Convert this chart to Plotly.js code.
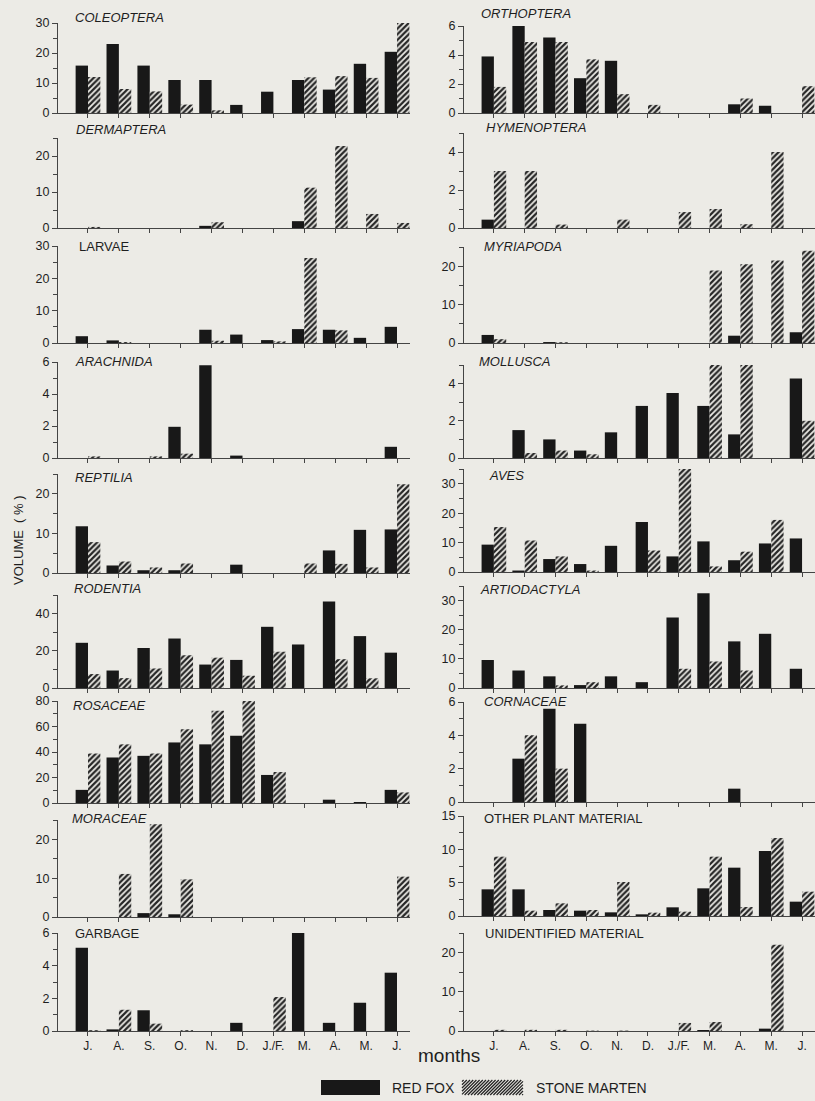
<!DOCTYPE html>
<html><head><meta charset="utf-8">
<script src="https://cdn.plot.ly/plotly-3.0.1.min.js"></script>
<style>html,body{margin:0;padding:0;background:#ecebe6;} #chart{width:815px;height:1101px;}</style>
</head><body><div id="chart"></div>
<script>
// ---------- DATA ----------
const months = ['J.','A.','S.','O.','N.','D.','J./F.','M.','A.','M.','J.'];
const seriesNames = ['RED FOX','STONE MARTEN'];
const panelTitles = ['COLEOPTERA','DERMAPTERA','LARVAE','ARACHNIDA','REPTILIA','RODENTIA','ROSACEAE','MORACEAE','GARBAGE',
                     'ORTHOPTERA','HYMENOPTERA','MYRIAPODA','MOLLUSCA','AVES','ARTIODACTYLA','CORNACEAE','OTHER PLANT MATERIAL','UNIDENTIFIED MATERIAL'];

const coleopteraFox     = [15.8,23,15.8,11,11,2.7,7.1,11,7.8,16.4,20.4];
const coleopteraMarten  = [12,8,7.2,2.8,0.9,0,0,11.9,12.3,11.7,30.5];
const dermapteraFox     = [0,0,0,0,0.6,0,0,1.9,0,0,0];
const dermapteraMarten  = [0.3,0,0,0,1.6,0,0,11.2,22.8,3.9,1.4];
const larvaeFox         = [2.1,0.8,0,0,4.1,2.6,0.9,4.3,4.1,1.6,5.0];
const larvaeMarten      = [0,0.3,0,0,0.7,0,0.5,26.3,3.9,0,0];
const arachnidaFox      = [0,0,0,1.95,5.8,0.15,0,0,0,0,0.7];
const arachnidaMarten   = [0.1,0,0.1,0.27,0,0,0,0,0,0,0];
const reptiliaFox       = [11.8,1.9,0.7,0.7,0,2.1,0,0,5.7,10.9,11];
const reptiliaMarten    = [7.8,2.9,1.4,2.4,0,0,0,2.4,2.3,1.4,22.4];
const rodentiaFox       = [24.3,9.4,21.5,26.6,12.6,15.1,32.9,23.4,46.5,27.9,19];
const rodentiaMarten    = [7.5,5.3,10.5,17.6,16.3,6.6,19.5,0,15.5,5.2,0];
const rosaceaeFox       = [10.3,35.7,37,47.5,46,52.7,22,0,2.6,0.8,10.3];
const rosaceaeMarten    = [38.8,46,38.8,57.9,72.4,80,24.3,0,0,0,8.3];
const moraceaeFox       = [0,0,1.0,0.7,0,0,0,0,0,0,0];
const moraceaeMarten    = [0,11.1,23.9,9.7,0,0,0,0,0,0,10.4];
const garbageFox        = [5.1,0.1,1.27,0,0,0.5,0,6.06,0.5,1.73,3.57];
const garbageMarten     = [0.05,1.3,0.45,0.05,0,0,2.08,0,0,0,0];

const orthopteraFox     = [3.9,6.1,5.2,2.4,3.6,0,0,0,0.6,0.5,0];
const orthopteraMarten  = [1.8,4.9,4.9,3.7,1.3,0.56,0,0,1.0,0,1.85];
const hymenopteraFox    = [0.44,0,0,0,0,0,0,0,0,0,0];
const hymenopteraMarten = [3.0,3.0,0.18,0,0.44,0,0.84,1.0,0.2,4.0,0];
const myriapodaFox      = [2.1,0,0.25,0,0,0,0,0,1.9,0,2.8];
const myriapodaMarten   = [1.0,0,0.2,0,0,0,0,18.9,20.5,21.5,24];
const molluscaFox       = [0,1.5,1.0,0.4,1.38,2.8,3.5,2.8,1.27,0,4.28];
const molluscaMarten    = [0,0.27,0.4,0.2,0,0,0,5.0,5.0,0,2.0];
const avesFox           = [9.3,0.5,4.4,2.7,8.9,17,5.3,10.4,4.0,9.7,11.4];
const avesMarten        = [15.3,10.7,5.3,0.5,0,7.3,35,1.9,6.9,17.7,0];
const artiodactylaFox   = [9.6,6.0,4.0,1.0,4.0,2.0,24.2,32.5,16,18.6,6.6];
const artiodactylaMarten= [0,0,0.9,2.0,0,0,6.6,9.1,6.0,0,0];
const cornaceaeFox      = [0,2.6,5.6,4.7,0,0,0,0,0.8,0,0];
const cornaceaeMarten   = [0,4.0,2.0,0,0,0,0,0,0,0,0];
const otherPlantFox     = [4.0,4.0,0.9,0.8,0.55,0.25,1.3,4.15,7.25,9.75,2.15];
const otherPlantMarten  = [8.9,0.8,1.9,0.9,5.1,0.5,0.65,8.9,1.35,11.7,3.65];
const unidentifiedFox   = [0,0,0,0,0,0,0,0.25,0,0.6,0];
const unidentifiedMarten= [0.3,0.3,0.3,0.1,0.1,0,2.05,2.3,0,22,0];

const foxSeries = [coleopteraFox,dermapteraFox,larvaeFox,arachnidaFox,reptiliaFox,rodentiaFox,rosaceaeFox,moraceaeFox,garbageFox,
                   orthopteraFox,hymenopteraFox,myriapodaFox,molluscaFox,avesFox,artiodactylaFox,cornaceaeFox,otherPlantFox,unidentifiedFox];
const martenSeries = [coleopteraMarten,dermapteraMarten,larvaeMarten,arachnidaMarten,reptiliaMarten,rodentiaMarten,rosaceaeMarten,moraceaeMarten,garbageMarten,
                   orthopteraMarten,hymenopteraMarten,myriapodaMarten,molluscaMarten,avesMarten,artiodactylaMarten,cornaceaeMarten,otherPlantMarten,unidentifiedMarten];

// ---------- AXIS SETTINGS (style) ----------
const yMax   = [30,25,30,6,25,50,80,25,6,  6,5,25,5,35,35,6,15,25];
const yDtick = [10,10,10,2,10,20,20,10,2,  2,2,10,2,10,10,2,5,10];
const italicTitle = [1,1,0,1,1,1,1,1,0, 1,1,1,1,1,1,1,0,0];

// ---------- LAYOUT POSITIONS (px) ----------
const W = 815, H = 1101;
const colX = [[58,410],[464,815]];
const rowsPx = [
  [[23,113],[138,228],[246,343],[362,458],[474,573],[595,688],[701,803],[820,917],[933,1031]],
  [[26,113],[133,228],[247,343],[365,458],[469,572],[586,688],[702,802],[816,916],[933,1031]]
];
const titleXPx = [73,74,77,73,73,72,71,70,73, 479,484,482,477,487,478,482,482,483];
const titleYPx = [17,130,247,361,477,588,705,818,933, 14,128,247,361,475,589,701,818,933];

const BG = '#ecebe6';
const FONT = 'Liberation Sans, Arial, Helvetica, sans-serif';
const INK = '#1e1e1e';
const HATCH = '#262626';

const px2x = v => v / W;
const px2y = v => 1 - v / H;

const traces = [];
const layout = {
  width: W, height: H,
  margin: {l:0, r:0, t:0, b:0},
  paper_bgcolor: BG, plot_bgcolor: BG,
  barmode: 'group', bargap: 0.2, bargroupgap: 0,
  font: {family: FONT, color: INK, size: 12},
  showlegend: false,
  annotations: [], shapes: []
};

const xIdx = months.map((m, j) => j);

for (let k = 0; k < 18; k++) {
  const col = k < 9 ? 0 : 1;
  const row = k % 9;
  const n = k + 1;
  const xa = n === 1 ? 'x' : 'x' + n;
  const ya = n === 1 ? 'y' : 'y' + n;
  traces.push({
    type:'bar', x: xIdx, y: foxSeries[k], xaxis: xa, yaxis: ya,
    name: seriesNames[0], marker: {color:'#181818', line:{width:0}}
  });
  traces.push({
    type:'bar', x: xIdx, y: martenSeries[k], xaxis: xa, yaxis: ya,
    name: seriesNames[1],
    marker: {color: BG, line:{width:0},
             pattern:{shape:'/', fgcolor: HATCH, bgcolor: BG, size:4, solidity:0.55}}
  });
  const [t, b] = rowsPx[col][row];
  layout[n === 1 ? 'xaxis' : 'xaxis' + n] = {
    domain: [px2x(colX[col][0]), px2x(colX[col][1])], anchor: ya,
    range: [-0.97, 10.42], showgrid:false, zeroline:false,
    showline:true, linecolor:'#444', linewidth:1,
    tickmode:'array', tickvals: xIdx, ticktext: months,
    ticks:'outside', ticklen:4, tickcolor:'#444',
    showticklabels: row === 8, tickfont:{size:12, color:INK, family:FONT},
    fixedrange:true
  };
  layout[n === 1 ? 'yaxis' : 'yaxis' + n] = {
    domain: [px2y(b), px2y(t)], anchor: xa,
    range: [0, yMax[k]], showgrid:false, zeroline:false,
    showline:true, linecolor:'#444', linewidth:1,
    tickmode:'linear', tick0:0, dtick: yDtick[k],
    ticks:'outside', ticklen:5, tickcolor:'#444',
    minor:{ticks:'outside', dtick: yDtick[k]/2, tick0:0, ticklen:4, tickcolor:'#444'},
    tickfont:{size:12.5, color:INK, family:FONT},
    fixedrange:true
  };
  layout.annotations.push({
    xref:'paper', yref:'paper', x: px2x(titleXPx[k]), y: px2y(titleYPx[k]),
    xanchor:'left', yanchor:'middle', showarrow:false,
    text: italicTitle[k] ? '<i>' + panelTitles[k] + '</i>' : panelTitles[k],
    font:{size:13, color:INK, family:FONT}
  });
}

// axis titles
layout.annotations.push({
  xref:'paper', yref:'paper', x: px2x(18), y: px2y(540), xanchor:'center', yanchor:'middle',
  showarrow:false, textangle:-90, text:'VOLUME  ( % )', font:{size:13, color:INK, family:FONT}
});
layout.annotations.push({
  xref:'paper', yref:'paper', x: px2x(449), y: px2y(1055), xanchor:'center', yanchor:'middle',
  showarrow:false, text:'months', font:{size:19, color:INK, family:FONT}
});

// ---------- LEGEND (key swatches drawn as shapes) ----------
const keyTop = 1080, keyBot = 1095;
layout.shapes.push({type:'rect', xref:'paper', yref:'paper',
  x0: px2x(321), x1: px2x(380), y0: px2y(keyBot), y1: px2y(keyTop),
  fillcolor:'#181818', line:{width:0}});
(function hatchKey(x0, x1, y0, y1, step) {
  let d = '';
  for (let c = x0 + y0 + step/2; c < x1 + y1; c += step) {
    const xa = Math.max(x0, c - y1), xb = Math.min(x1, c - y0);
    if (xb <= xa) continue;
    d += 'M' + px2x(xa).toFixed(5) + ',' + px2y(c - xa).toFixed(5) +
         'L' + px2x(xb).toFixed(5) + ',' + px2y(c - xb).toFixed(5);
  }
  layout.shapes.push({type:'path', xref:'paper', yref:'paper', path:d,
    line:{color:HATCH, width:1.3}});
})(462, 523, keyTop, keyBot, 3.2);
layout.annotations.push({xref:'paper', yref:'paper', x: px2x(390), y: px2y(1088),
  xanchor:'left', yanchor:'middle', showarrow:false, text: seriesNames[0],
  font:{size:14, color:INK, family:FONT}});
layout.annotations.push({xref:'paper', yref:'paper', x: px2x(534), y: px2y(1088),
  xanchor:'left', yanchor:'middle', showarrow:false, text: seriesNames[1],
  font:{size:14, color:INK, family:FONT}});

Plotly.newPlot('chart', traces, layout, {staticPlot:true, displayModeBar:false});
</script>
</body></html>
